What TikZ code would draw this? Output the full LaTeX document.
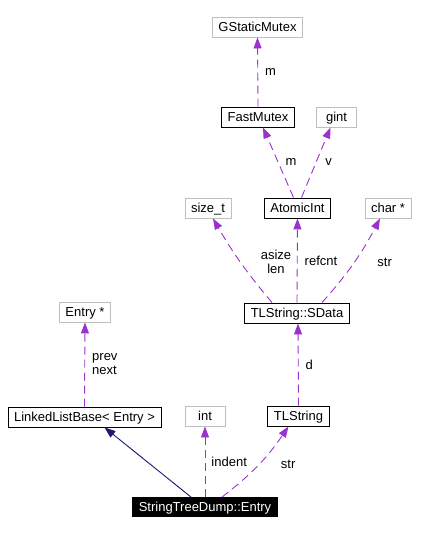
\documentclass[tikz,border=0pt]{standalone}
\usepackage{fontspec}
\setmainfont{Liberation Sans}
\usetikzlibrary{arrows.meta,positioning}
\definecolor{orchid}{HTML}{9A32CD}
\definecolor{navy}{HTML}{191970}
\definecolor{grey75}{HTML}{BFBFBF}

\begin{document}
\begin{tikzpicture}[
  x=1pt, y=-1pt,
  font=\fontsize{13}{14}\selectfont,
  >={Triangle[length=11pt,width=8pt]},
  box/.style={draw,inner xsep=6pt,inner ysep=0pt,minimum height=20pt,line width=0.9pt,
    text height=9.5pt,text depth=0pt},
  cls/.style={box,draw=black},
  ext/.style={box,draw=grey75,minimum width=40pt},
  self/.style={box,fill=black,text=white,minimum height=19pt},
  use/.style={->,draw=orchid,dash pattern=on 8pt off 5pt,line width=0.9pt},
  inh/.style={->,draw=navy,line width=0.9pt},
  lbl/.style={inner sep=1pt,align=center}
]
\useasboundingbox (0,0) rectangle (420,534);

% ---- Classes ----
\node[ext] (gsm) at (257.5,27) {GStaticMutex};
\node[cls] (fm) at (258,117) {FastMutex};
\node[ext] (gint) at (336.5,117) {gint};
\node[ext] (sizet) at (208,208) {size\_t};
\node[cls] (ai) at (297.5,208) {AtomicInt};
\node[ext] (charp) at (388,208) {char *};
\node[cls] (sdata) at (297,313) {TLString::SData};
\node[ext] (entryp) at (85,312) {Entry *};
\node[cls] (llb) at (84.5,417) {LinkedListBase< Entry >};
\node[ext] (int) at (205,416) {int};
\node[cls] (tls) at (298.5,416) {TLString};
\node[self] (entry) at (205,507) {StringTreeDump::Entry};

% ---- Usage relations ----
\draw[use] (fm.north) -- node[lbl,right=6pt] (l1) {m} (gsm.south);
\draw[use] ([xshift=-4pt]ai.north) -- node[lbl,right=6pt] (l2) {m} ([xshift=5pt]fm.south);
\draw[use] ([xshift=4pt]ai.north) -- node[lbl,right=8pt] (l3) {v} ([xshift=-6pt]gint.south);
\draw[use] ([xshift=-25pt]sdata.north) to[bend left=5] node[lbl,right=19pt] (l4) {asize\\len} ([xshift=5pt]sizet.south);
\draw[use] (sdata.north) -- node[lbl,right=6pt] (l5) {refcnt} (ai.south);
\draw[use] ([xshift=25pt]sdata.north) to[bend right=7] node[lbl,right=22pt] (l6) {str} ([xshift=-8pt]charp.south);
\draw[use] (tls.north) -- node[lbl,right=6pt] (l7) {d} ([xshift=1pt]sdata.south);
\draw[use] (llb.north) -- node[lbl,right=6pt,align=left] (l8) {prev\\next} (entryp.south);
\draw[use] (entry.north) -- node[lbl,right=5pt] (l9) {indent} (int.south);
\draw[use] ([xshift=17pt]entry.north) to[bend right=9] node[lbl,right=21pt] (l10) {str} ([xshift=-10pt]tls.south);

% ---- Inheritance ----
\draw[inh] ([xshift=-14pt]entry.north) -- ([xshift=20pt]llb.south);

\end{tikzpicture}
\end{document}
